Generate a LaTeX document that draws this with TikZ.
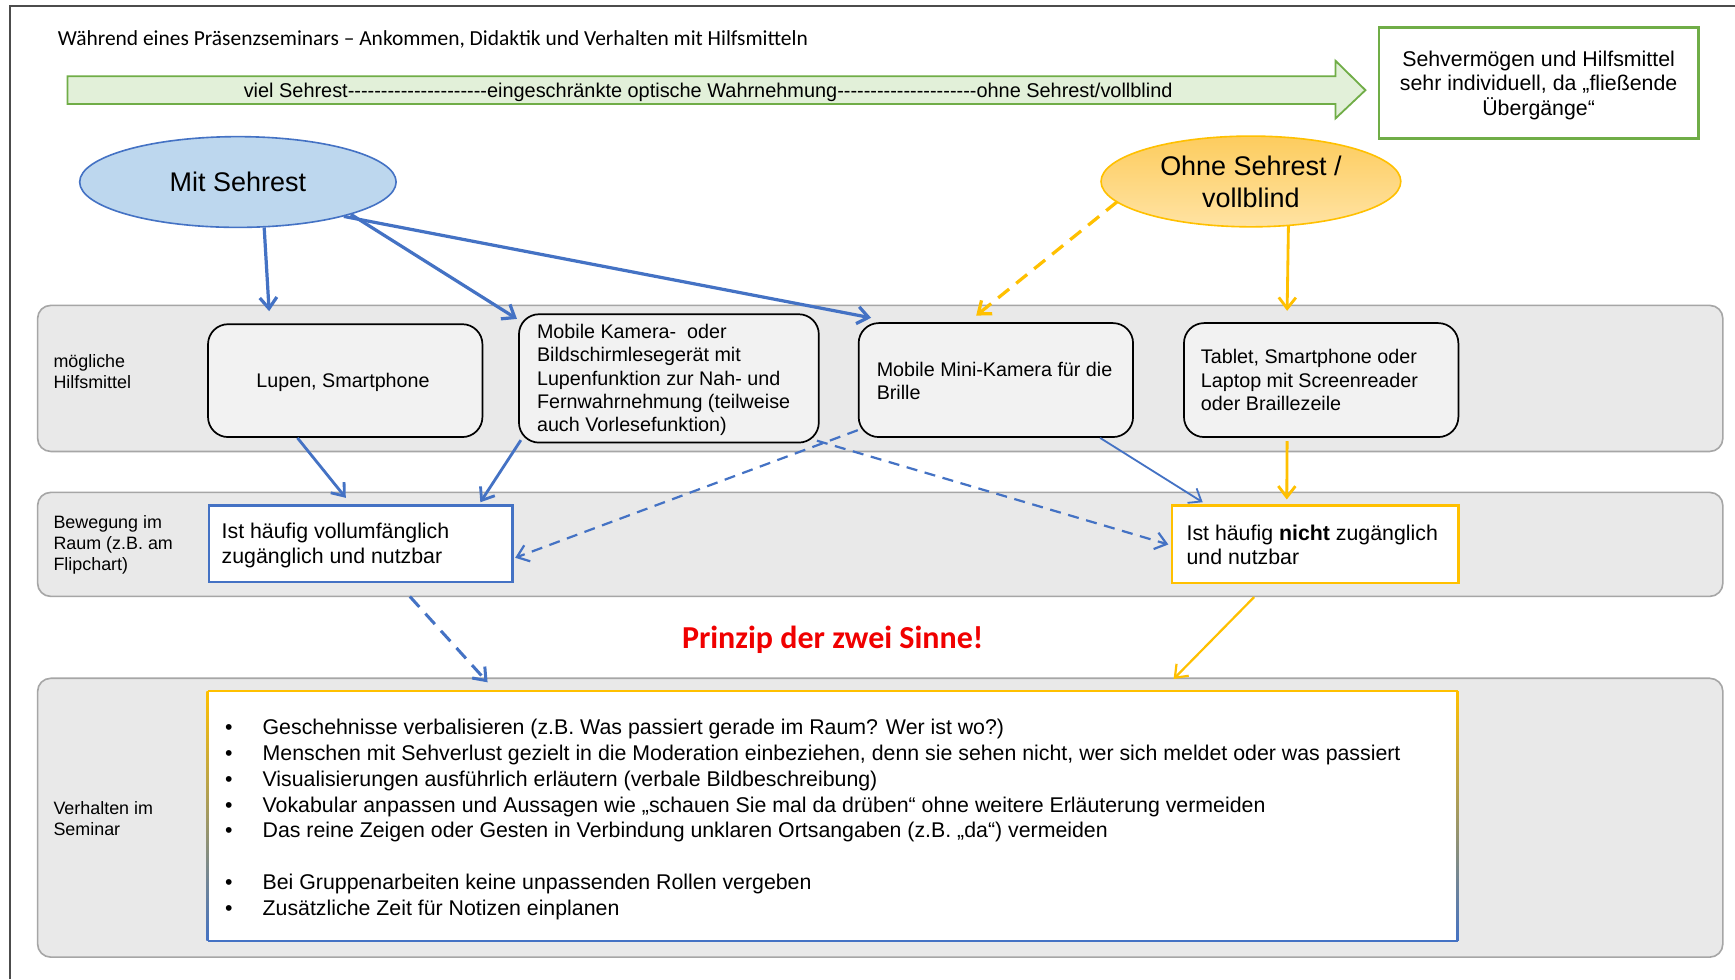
\documentclass[tikz,border=0pt]{standalone}
\usepackage{fontspec}
\setmainfont{Liberation Sans}
\newfontfamily\calib{Carlito}
\usetikzlibrary{arrows.meta,shapes.geometric,fit,calc}
\definecolor{oblue}{HTML}{4472C4}
\definecolor{oyell}{HTML}{FFC000}
\definecolor{ogreen}{HTML}{70AD47}
\definecolor{lgreen}{HTML}{E2F0D9}
\definecolor{eblue}{HTML}{BDD7EE}
\definecolor{bandfill}{HTML}{E9E9E9}
\definecolor{bandline}{HTML}{A6A6A6}
\definecolor{boxfill}{HTML}{F2F2F2}
\definecolor{pred}{HTML}{F00000}
\definecolor{otop}{HTML}{FDCC5E}
\definecolor{obot}{HTML}{FFE3A3}
\newcommand\dd{\mbox{-}}
\newcommand\dashrun{\dd\dd\dd\dd\dd\dd\dd\dd\dd\dd\dd\dd\dd\dd\dd\dd\dd\dd\dd\dd\dd}
\newcommand\bul{\makebox[18.7pt][l]{•}}
\begin{document}
\begin{tikzpicture}[x=0.55pt,y=-0.55pt,
  band/.style={draw=bandline, line width=0.8pt, fill=bandfill, rounded corners=6.5pt, inner sep=0pt},
  aid/.style={draw=black, line width=0.85pt, fill=boxfill, rounded corners=10pt, inner sep=0pt},
  lbl/.style={font=\fontsize{8.9}{10.45}\selectfont, align=left, anchor=west, inner sep=0pt},
  txt/.style={font=\fontsize{9.8}{11.55}\selectfont, align=left, anchor=west, inner sep=0pt},
  bigtxt/.style={font=\fontsize{10.6}{12.3}\selectfont, align=left, anchor=west, inner sep=0pt},
  tipb/.style={-{Straight Barb[length=5.5pt,width=8.5pt]}},
  arrA/.style={tipb, oblue, line width=1.6pt},
  arrB/.style={tipb, oblue, line width=1.4pt},
  arrC/.style={tipb, oblue, line width=0.9pt},
  arrD/.style={tipb, oblue, line width=1.1pt, dash pattern=on 5.5pt off 3.8pt},
  arrE/.style={tipb, oblue, line width=1.5pt, dash pattern=on 7pt off 4.5pt},
  yarr/.style={tipb, oyell, line width=1.4pt},
  yarrd/.style={tipb, oyell, line width=1.6pt, dash pattern=on 7pt off 4.5pt},
  yarrt/.style={tipb, oyell, line width=1.1pt}
]
\useasboundingbox (0,0) rectangle (1568,885);
\fill[white] (0,0) rectangle (1568,885);
% frame
\draw[line width=0.8pt, black!70] (9,885) -- (9,5.5) -- (1568,5.5);

% title
\node[anchor=west, inner sep=0pt, font=\calib\fontsize{10.66}{12.5}\selectfont] (title) at (52,36)
  {Während eines Präsenzseminars – Ankommen, Didaktik und Verhalten mit Hilfsmitteln};

% green arrow
\draw[draw=ogreen, fill=lgreen, line width=0.9pt, line join=miter]
  (61,69) -- (1207,69) -- (1207,55) -- (1234,81.5) -- (1207,107) -- (1207,94) -- (61,94) -- cycle;
\node[inner sep=0pt, font=\fontsize{9.9}{12}\selectfont] (scale) at (640,83.5)
  {viel Sehrest\dashrun eingeschränkte optische Wahrnehmung\dashrun ohne Sehrest/vollblind};

% top right box
\node[draw=ogreen, line width=1.2pt, fit={(1246,25) (1535,125)}, inner sep=0pt] (indiv) {};
\node[align=center, inner sep=0pt, font=\fontsize{10.6}{12.1}\selectfont] (indivT) at (1390.5,77)
  {Sehvermögen und Hilfsmittel\\sehr individuell, da „fließende\\Übergänge“};

% ellipses
\node[ellipse, draw=oblue, line width=0.8pt, fill=eblue, minimum width=157.3pt, minimum height=45.1pt,
  inner sep=0pt, font=\fontsize{13.4}{16}\selectfont] (mit) at (215,164.5) {Mit Sehrest};
\node[ellipse, draw=oyell, line width=0.8pt, top color=otop, bottom color=obot, minimum width=149pt,
  minimum height=45.1pt, inner sep=0pt, align=center, font=\fontsize{13.4}{16}\selectfont] (ohne)
  at (1130.5,164) {Ohne Sehrest /\\vollblind};

% bands
\node[band, fit={(34,276) (1557,408)}] (band1) {};
\node[band, fit={(34,445) (1557,539)}] (band2) {};
\node[band, fit={(34,613) (1557,865)}] (band3) {};

\node[lbl] (l1) at (48,335.5) {mögliche\\Hilfsmittel};
\node[lbl] (l2) at (48,492) {Bewegung im\\Raum (z.B. am\\Flipchart)};
\node[lbl] (l3) at (48,739.5) {Verhalten im\\Seminar};

% row 1 boxes
\node[aid, fit={(188,293) (436,395)}] (lupen) {};
\node[inner sep=0pt, font=\fontsize{9.8}{11.55}\selectfont] (lupenT) at (310,346) {Lupen, Smartphone};
\node[aid, fit={(469,284) (740,400)}] (kamera) {};
\node[txt] (kameraT) at (485,343.5) {Mobile Kamera-~ oder\\Bildschirmlesegerät mit\\Lupenfunktion zur Nah- und\\Fernwahrnehmung (teilweise\\auch Vorlesefunktion)};
\node[aid, fit={(776,292) (1024,395)}] (mini) {};
\node[txt] (miniT) at (792,344.5) {Mobile Mini-Kamera für die\\Brille};
\node[aid, fit={(1070,292) (1318,395)}] (tablet) {};
\node[txt] (tabletT) at (1085,343.5) {Tablet, Smartphone oder\\Laptop mit Screenreader\\oder Braillezeile};

% row 2 boxes
\node[draw=oblue, line width=1.2pt, fill=white, fit={(189,457) (463,526)}, inner sep=0pt] (voll) {};
\node[bigtxt] (vollT) at (200,493) {Ist häufig vollumfänglich\\zugänglich und nutzbar};
\node[draw=oyell, line width=1.2pt, fill=white, fit={(1059,457) (1318,527)}, inner sep=0pt] (nicht) {};
\node[bigtxt] (nichtT) at (1072,492.5) {Ist häufig \textbf{nicht} zugänglich\\und nutzbar};

% Prinzip
\node[font=\calib\bfseries\fontsize{15.9}{18}\selectfont, text=pred, inner sep=0pt] (prinzip) at (752.5,578) {Prinzip der zwei Sinne!};

% bottom box with gradient border
\node[fit={(188,625) (1317,850)}, inner sep=0pt, fill=white] (rules) {};
\draw[oyell, line width=1.2pt] (rules.north west) -- (rules.north east);
\draw[oblue, line width=1.2pt] (rules.south west) -- (rules.south east);
\shade[top color=oyell, middle color=black!12, bottom color=oblue]
  ($(rules.north west)+(-1.1,0)$) rectangle ($(rules.south west)+(1.1,0)$);
\shade[top color=oyell, middle color=black!12, bottom color=oblue]
  ($(rules.north east)+(-1.1,0)$) rectangle ($(rules.south east)+(1.1,0)$);
\node[font=\fontsize{10.6}{12.8}\selectfont, align=left, anchor=west, inner sep=0pt] (rulesT) at (203,740.5)
  {\bul Geschehnisse verbalisieren (z.B. Was passiert gerade im Raum? Wer ist wo?)\\
   \bul Menschen mit Sehverlust gezielt in die Moderation einbeziehen, denn sie sehen nicht, wer sich meldet oder was passiert\\
   \bul Visualisierungen ausführlich erläutern (verbale Bildbeschreibung)\\
   \bul Vokabular anpassen und Aussagen wie „schauen Sie mal da drüben“ ohne weitere Erläuterung vermeiden\\
   \bul Das reine Zeigen oder Gesten in Verbindung unklaren Ortsangaben (z.B. „da“) vermeiden\\
   \mbox{}\\
   \bul Bei Gruppenarbeiten keine unpassenden Rollen vergeben\\
   \bul Zusätzliche Zeit für Notizen einplanen};

% connector coordinates
\coordinate (e1) at ($(lupen.north west)+(56,-11)$);
\coordinate (e2) at ($(kamera.north west)+(-1,5)$);
\coordinate (e3) at ($(mini.north west)+(12,-4)$);
\coordinate (s4) at ($(lupen.south west)+(81.6,0)$);
\coordinate (e4) at ($(voll.north west)+(124.6,-6)$);
\coordinate (s5) at ($(kamera.south west)+(2.5,-3)$);
\coordinate (e5) at ($(voll.north west)+(246.2,-2)$);
\coordinate (s6) at ($(mini.south west)+(219,0)$);
\coordinate (e6) at ($(nicht.north west)+(29,-2)$);
\coordinate (s7) at ($(mini.south west)+(0,-7)$);
\coordinate (e7) at ($(voll.south east)+(1.5,-23)$);
\coordinate (s8) at ($(kamera.south east)+(-2.5,-2.5)$);
\coordinate (e8) at ($(nicht.south west)+(-2,-36)$);
\coordinate (s9) at ($(voll.south west)+(182.5,12)$);
\coordinate (e9) at ($(rules.north west)+(253,-8)$);
\coordinate (s10) at (1009.6,182.4);
\coordinate (e10) at ($(mini.north west)+(107,-6)$);
\coordinate (e11) at ($(tablet.north west)+(94,-10.3)$);
\coordinate (s12) at ($(tablet.south west)+(94,3)$);
\coordinate (e12) at ($(nicht.north west)+(105,-4.5)$);
\coordinate (s13) at ($(nicht.south west)+(75.5,11.5)$);
\coordinate (e13) at ($(rules.north west)+(873,-11)$);

% connectors
\draw[arrA] (mit.-60) -- (e1);
\draw[arrA] (mit.-16) -- (e2);
\draw[arrA] (mit.-18) -- (e3);
\draw[arrB] (s4) -- (e4);
\draw[arrB] (s5) -- (e5);
\draw[arrC] (s6) -- (e6);
\draw[arrD] (s7) -- (e7);
\draw[arrD] (s8) -- (e8);
\draw[arrE] (s9) -- (e9);
\draw[yarrd] (s10) -- (e10);
\draw[yarr] (ohne.-50) -- (e11);
\draw[yarr] (s12) -- (e12);
\draw[yarrt] (s13) -- (e13);
\end{tikzpicture}
\end{document}
